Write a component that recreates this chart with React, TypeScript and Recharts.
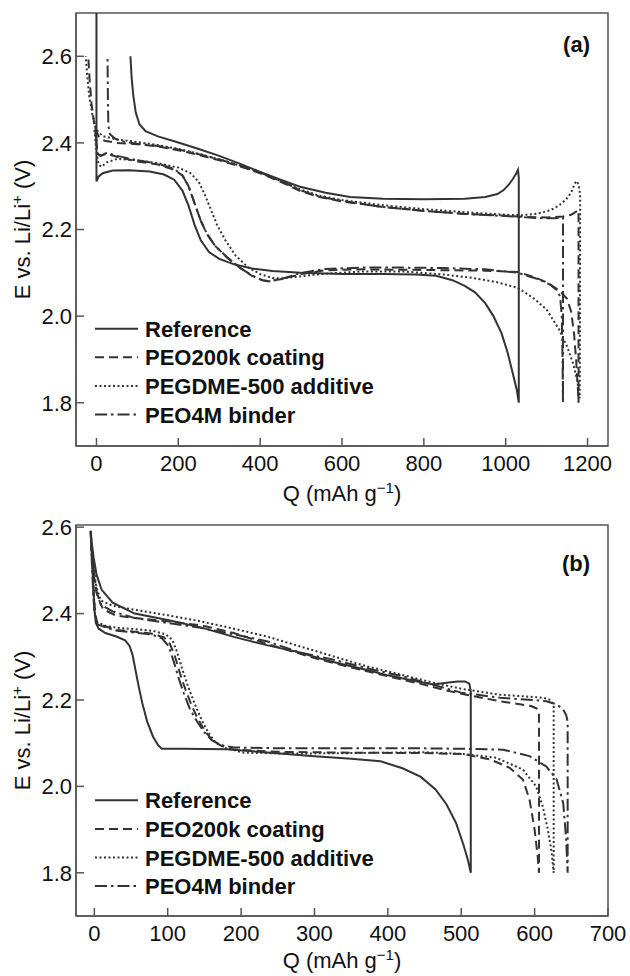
import { LineChart, Line, XAxis, YAxis, ReferenceArea } from "recharts";

type Pt = [number, number];

// legend names, same order in both panels
const NAMES = ["Reference", "PEO200k coating", "PEGDME-500 additive", "PEO4M binder"];

// panel (a) x / y ticks
const TICKS_QA = [0, 200, 400, 600, 800, 1000, 1200];
const TICKS_EA = [1.8, 2.0, 2.2, 2.4, 2.6];
// panel (b)
const TICKS_QB = [0, 100, 200, 300, 400, 500, 600, 700];
const TICKS_EB = [1.8, 2.0, 2.2, 2.4, 2.6];

// ---- panel (a): [Q mAh/g, E V] ----
const refA: Pt[] = [
  [0, 2.75], [0, 2.311], [5, 2.322], [15, 2.33], [40, 2.336], [80, 2.337], [130, 2.334],
  [165, 2.327], [190, 2.315], [210, 2.29], [225, 2.255], [240, 2.21], [255, 2.175],
  [275, 2.148], [300, 2.132], [335, 2.12], [380, 2.11], [430, 2.104], [500, 2.1],
  [600, 2.097], [700, 2.097], [780, 2.096], [830, 2.093], [870, 2.083], [900, 2.07],
  [925, 2.055], [950, 2.03], [970, 2.0], [990, 1.96], [1005, 1.915], [1018, 1.865],
  [1027, 1.83], [1032, 1.8],
  [1032, 2.32], [1030, 2.338], [1025, 2.328], [1017, 2.316], [1008, 2.304], [995, 2.291],
  [980, 2.282], [950, 2.275], [900, 2.271], [800, 2.27], [700, 2.271], [620, 2.275],
  [560, 2.285], [500, 2.298], [450, 2.315], [400, 2.333], [350, 2.352], [300, 2.37],
  [250, 2.386], [200, 2.401], [150, 2.415], [120, 2.427], [105, 2.443], [96, 2.47],
  [90, 2.51], [86, 2.55], [83, 2.6],
];
const peo200kA: Pt[] = [
  [-3, 2.44], [0, 2.4], [3, 2.375], [10, 2.37], [25, 2.375], [50, 2.368], [100, 2.357],
  [150, 2.35], [190, 2.338], [210, 2.325], [225, 2.3], [240, 2.26], [255, 2.22],
  [270, 2.19], [290, 2.162], [320, 2.135], [350, 2.112], [380, 2.093], [405, 2.083],
  [420, 2.081], [450, 2.085], [500, 2.097], [560, 2.106], [650, 2.108], [750, 2.107],
  [850, 2.106], [950, 2.105], [1030, 2.102], [1070, 2.09], [1100, 2.078], [1130, 2.06],
  [1150, 2.04], [1160, 2.01], [1167, 1.96], [1172, 1.9], [1176, 1.84], [1178, 1.8],
  [1178, 2.245], [1170, 2.24], [1160, 2.234], [1140, 2.23], [1100, 2.228], [1050, 2.229],
  [1000, 2.232], [900, 2.236], [800, 2.243], [700, 2.252], [600, 2.265], [545, 2.275],
  [500, 2.288], [450, 2.31], [400, 2.33], [350, 2.346], [300, 2.36], [250, 2.372],
  [200, 2.383], [150, 2.392], [100, 2.397], [50, 2.4], [20, 2.405], [5, 2.415],
  [-5, 2.44], [-12, 2.49], [-17, 2.55], [-20, 2.6],
];
const pegdmeA: Pt[] = [
  [-5, 2.43], [0, 2.38], [5, 2.35], [12, 2.345], [25, 2.355], [50, 2.363], [100, 2.36],
  [150, 2.353], [200, 2.343], [230, 2.33], [250, 2.31], [265, 2.28], [280, 2.245],
  [295, 2.21], [315, 2.175], [340, 2.14], [370, 2.113], [400, 2.097], [430, 2.088],
  [455, 2.087], [500, 2.092], [560, 2.098], [650, 2.103], [750, 2.103], [850, 2.096],
  [920, 2.088], [980, 2.078], [1030, 2.065], [1070, 2.04], [1100, 2.015], [1130, 1.97],
  [1150, 1.93], [1165, 1.89], [1175, 1.85], [1181, 1.81],
  [1182, 2.28], [1178, 2.305], [1173, 2.312], [1168, 2.305], [1160, 2.285], [1148, 2.27],
  [1130, 2.255], [1110, 2.245], [1080, 2.237], [1040, 2.233], [1000, 2.234], [900, 2.24],
  [800, 2.247], [700, 2.256], [600, 2.268], [545, 2.278], [500, 2.292], [450, 2.312],
  [400, 2.332], [350, 2.348], [300, 2.362], [250, 2.375], [200, 2.386], [150, 2.395],
  [100, 2.402], [50, 2.408], [15, 2.416], [0, 2.43], [-10, 2.465], [-18, 2.51],
  [-23, 2.56], [-26, 2.6],
];
const peo4mA: Pt[] = [
  [-3, 2.43], [0, 2.4], [3, 2.375], [10, 2.37], [25, 2.377], [50, 2.37], [100, 2.36],
  [150, 2.352], [190, 2.34], [210, 2.325], [225, 2.3], [240, 2.26], [255, 2.22],
  [270, 2.19], [290, 2.162], [320, 2.135], [350, 2.112], [380, 2.094], [405, 2.083],
  [420, 2.08], [450, 2.085], [500, 2.1], [560, 2.109], [650, 2.112], [750, 2.112],
  [850, 2.111], [950, 2.108], [1030, 2.1], [1080, 2.085], [1110, 2.072], [1125, 2.06],
  [1133, 2.045], [1137, 2.0], [1139, 1.9], [1140, 1.8],
  [1140, 2.228], [1120, 2.226], [1090, 2.226], [1050, 2.228], [1000, 2.231], [900, 2.236],
  [800, 2.243], [700, 2.252], [600, 2.266], [545, 2.276], [500, 2.29], [450, 2.312],
  [400, 2.332], [350, 2.348], [300, 2.362], [250, 2.374], [200, 2.385], [150, 2.393],
  [100, 2.398], [70, 2.402], [45, 2.41], [33, 2.42], [29, 2.44], [28, 2.5], [27, 2.6],
];

// ---- panel (b) ----
const refB: Pt[] = [
  [-5, 2.592], [-3, 2.53], [-1.5, 2.47], [0, 2.41], [2, 2.378], [6, 2.365], [15, 2.355],
  [30, 2.347], [42, 2.338], [48, 2.325], [52, 2.305], [56, 2.27], [60, 2.235],
  [65, 2.195], [72, 2.15], [80, 2.115], [87, 2.095], [92, 2.087], [120, 2.087],
  [180, 2.086], [240, 2.078], [300, 2.07], [350, 2.064], [390, 2.058], [420, 2.042],
  [445, 2.022], [465, 1.993], [480, 1.958], [493, 1.915], [503, 1.865], [509, 1.83],
  [513, 1.8],
  [513, 2.22], [511, 2.238], [505, 2.243], [495, 2.243], [480, 2.24], [462, 2.236],
  [440, 2.243], [400, 2.257], [370, 2.27], [320, 2.29], [280, 2.31], [235, 2.327],
  [190, 2.346], [145, 2.368], [100, 2.385], [55, 2.4], [25, 2.425], [10, 2.455],
  [3, 2.49], [-1, 2.53], [-4, 2.57], [-5, 2.592],
];
const peo200kB: Pt[] = [
  [-5, 2.59], [-3, 2.52], [-1, 2.45], [1, 2.4], [4, 2.378], [15, 2.37], [31, 2.362],
  [55, 2.358], [77, 2.354], [95, 2.345], [103, 2.33], [110, 2.3], [117, 2.26],
  [124, 2.225], [132, 2.19], [140, 2.16], [150, 2.13], [160, 2.108], [172, 2.095],
  [190, 2.085], [250, 2.08], [350, 2.078], [450, 2.077], [503, 2.075], [540, 2.062],
  [566, 2.043], [584, 2.016], [593, 1.97], [600, 1.9], [604, 1.84], [606, 1.8],
  [606, 2.17], [603, 2.18], [595, 2.186], [580, 2.19], [553, 2.197], [507, 2.212],
  [480, 2.222], [450, 2.235], [400, 2.255], [350, 2.275], [300, 2.297], [235, 2.33],
  [190, 2.355], [145, 2.373], [100, 2.382], [55, 2.39], [30, 2.395], [12, 2.41],
  [4, 2.44], [0, 2.48], [-3, 2.54], [-5, 2.59],
];
const pegdmeB: Pt[] = [
  [-5, 2.59], [-3, 2.52], [-1, 2.45], [1, 2.4], [4, 2.38], [15, 2.372], [31, 2.367],
  [55, 2.364], [80, 2.36], [97, 2.352], [106, 2.34], [113, 2.31], [120, 2.27],
  [128, 2.23], [137, 2.19], [146, 2.155], [155, 2.125], [166, 2.1], [180, 2.088],
  [204, 2.078], [260, 2.076], [350, 2.077], [450, 2.079], [503, 2.075], [548, 2.066],
  [584, 2.039], [602, 2.0], [611, 1.954], [618, 1.9], [623, 1.85], [626, 1.8],
  [626, 2.185], [622, 2.2], [612, 2.205], [598, 2.207], [553, 2.212], [500, 2.226],
  [462, 2.24], [417, 2.259], [371, 2.278], [308, 2.31], [235, 2.347], [190, 2.365],
  [145, 2.382], [100, 2.396], [54, 2.409], [25, 2.418], [9, 2.43], [3, 2.46],
  [0, 2.49], [-3, 2.54], [-5, 2.59],
];
const peo4mB: Pt[] = [
  [-5, 2.59], [-3, 2.5], [-1, 2.43], [1, 2.395], [4, 2.375], [15, 2.368], [31, 2.36],
  [55, 2.356], [77, 2.352], [92, 2.343], [101, 2.325], [108, 2.29], [115, 2.25],
  [122, 2.215], [130, 2.18], [140, 2.15], [150, 2.125], [160, 2.107], [172, 2.096],
  [190, 2.09], [260, 2.088], [350, 2.088], [450, 2.088], [503, 2.087], [557, 2.085],
  [593, 2.07], [616, 2.046], [630, 2.016], [639, 1.961], [643, 1.877], [645, 1.8],
  [645, 2.15], [643, 2.165], [639, 2.178], [630, 2.19], [616, 2.197], [598, 2.2],
  [553, 2.205], [500, 2.217], [462, 2.235], [420, 2.255], [380, 2.27], [326, 2.293],
  [280, 2.31], [235, 2.336], [190, 2.352], [145, 2.367], [100, 2.378], [54, 2.39],
  [25, 2.405], [9, 2.42], [3, 2.45], [0, 2.49], [-3, 2.54], [-5, 2.59],
];

const SERIES_A = [refA, peo200kA, pegdmeA, peo4mA];
const SERIES_B = [refB, peo200kB, pegdmeB, peo4mB];

const DASHES = [undefined, "9 5", "2 2.5", "12 4 2.5 4"];
const LINE = "#333";
const FRAME = "#555";
const FONT = "Arial, 'Liberation Sans', Helvetica, sans-serif";

const toRows = (pts: Pt[]) => pts.map(([q, v]) => ({ q, v }));

function Panel({
  series, xDomain, yDomain, xTicks, yTicks, height, marginTop, xAxisHeight,
}: {
  series: Pt[][]; xDomain: [number, number]; yDomain: [number, number];
  xTicks: number[]; yTicks: number[]; height: number; marginTop: number; xAxisHeight: number;
}) {
  const tick = { fill: "#111", fontSize: 22, fontFamily: FONT };
  return (
    <LineChart width={630} height={height} margin={{ top: marginTop, right: 22, bottom: 0, left: 0 }}>
      <XAxis
        dataKey="q" type="number" domain={xDomain} ticks={xTicks} interval={0}
        height={xAxisHeight} tick={tick} tickSize={-8} tickMargin={17}
        stroke={FRAME} strokeWidth={1.5} allowDataOverflow
      />
      <YAxis
        type="number" domain={yDomain} ticks={yTicks} interval={0} width={76}
        tick={tick} tickSize={-8} tickMargin={12}
        tickFormatter={(v: number) => v.toFixed(1)}
        stroke={FRAME} strokeWidth={1.5} allowDataOverflow
      />
      {/* box frame around the plot */}
      <ReferenceArea
        x1={xDomain[0]} x2={xDomain[1]} y1={yDomain[0]} y2={yDomain[1]}
        fill="none" fillOpacity={0} stroke={FRAME} strokeWidth={1.5} ifOverflow="visible"
      />
      {series.map((pts, i) => (
        <Line
          key={NAMES[i]}
          data={toRows(pts)}
          dataKey="v"
          type="linear"
          dot={false}
          activeDot={false}
          stroke={LINE}
          strokeWidth={2}
          strokeDasharray={DASHES[i]}
          isAnimationActive={false}
        />
      ))}
    </LineChart>
  );
}

function Labels({ tag, tagY, xTitleY, plotMidY, legendY }: {
  tag: string; tagY: number; xTitleY: number; plotMidY: number; legendY: number;
}) {
  return (
    <g fontFamily={FONT} fill="#111">
      <text x={590} y={tagY} fontSize={22} fontWeight="bold" textAnchor="end">{tag}</text>
      <text x={342} y={xTitleY} fontSize={22} textAnchor="middle">
        Q (mAh g<tspan dy={-8} fontSize={15}>−1</tspan><tspan dy={8}>)</tspan>
      </text>
      <text
        x={0} y={0} fontSize={22} textAnchor="middle"
        transform={`translate(30 ${plotMidY}) rotate(-90)`}
      >
        E vs. Li/Li<tspan dy={-8} fontSize={15}>+</tspan><tspan dy={8}> (V)</tspan>
      </text>
      {NAMES.map((name, i) => {
        const base = legendY + i * 28.6;
        return (
          <g key={name}>
            <line
              x1={95} x2={138} y1={base - 8} y2={base - 8}
              stroke={LINE} strokeWidth={2} strokeDasharray={DASHES[i]}
            />
            <text x={145} y={base} fontSize={22} fontWeight="bold">{name}</text>
          </g>
        );
      })}
    </g>
  );
}

export default function App() {
  return (
    <div style={{ position: "absolute", left: 0, top: 0, width: 630, height: 976, background: "#fff" }}>
      <div style={{ position: "absolute", left: 0, top: 0 }}>
        <Panel
          series={SERIES_A} xDomain={[-50, 1250]} yDomain={[1.7, 2.7]}
          xTicks={TICKS_QA} yTicks={TICKS_EA} height={505} marginTop={13} xAxisHeight={59}
        />
      </div>
      <div style={{ position: "absolute", left: 0, top: 505 }}>
        <Panel
          series={SERIES_B} xDomain={[-25, 700]} yDomain={[1.7, 2.605]}
          xTicks={TICKS_QB} yTicks={TICKS_EB} height={471} marginTop={20} xAxisHeight={60}
        />
      </div>
      <svg
        width={630} height={976}
        style={{ position: "absolute", left: 0, top: 0, pointerEvents: "none" }}
      >
        <Labels tag="(a)" tagY={52} xTitleY={501} plotMidY={229.5} legendY={336.7} />
        <Labels tag="(b)" tagY={571} xTitleY={968} plotMidY={720.5} legendY={808.3} />
      </svg>
    </div>
  );
}
